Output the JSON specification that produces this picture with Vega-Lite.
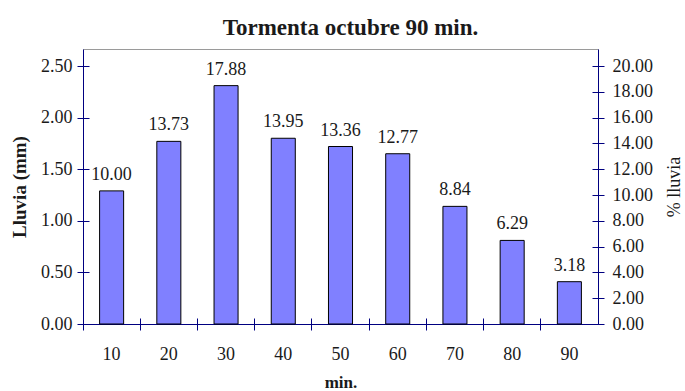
{
  "$schema": "https://vega.github.io/schema/vega-lite/v6.json",
  "autosize": {"type": "none"},
  "padding": {"left": 83, "top": 49, "right": 87, "bottom": 67},
  "width": 515,
  "height": 275,
  "background": "#ffffff",
  "title": {
    "text": "Tormenta octubre 90 min.",
    "font": "Liberation Serif",
    "fontSize": 23,
    "fontWeight": "bold",
    "color": "#1a1a1a",
    "offset": 9,
    "dx": 10
  },
  "config": {
    "view": {"stroke": "#9a9a9a", "strokeWidth": 1},
    "axis": {
      "grid": false,
      "domainColor": "#000080",
      "tickColor": "#000080",
      "domainWidth": 1,
      "tickWidth": 1,
      "labelFont": "Liberation Serif",
      "labelFontSize": 18,
      "labelColor": "#1a1a1a",
      "titleFont": "Liberation Serif",
      "titleColor": "#1a1a1a"
    }
  },
  "data": {
    "values": [
      {"min": 10, "mm": 1.29, "pct": 10.00},
      {"min": 20, "mm": 1.77, "pct": 13.73},
      {"min": 30, "mm": 2.31, "pct": 17.88},
      {"min": 40, "mm": 1.80, "pct": 13.95},
      {"min": 50, "mm": 1.72, "pct": 13.36},
      {"min": 60, "mm": 1.65, "pct": 12.77},
      {"min": 70, "mm": 1.14, "pct": 8.84},
      {"min": 80, "mm": 0.81, "pct": 6.29},
      {"min": 90, "mm": 0.41, "pct": 3.18}
    ]
  },
  "layer": [
    {
      "mark": {"type": "bar", "fill": "#8080ff", "stroke": "#000000", "strokeWidth": 1, "width": {"band": 0.42}},
      "encoding": {
        "x": {
          "field": "min", "type": "ordinal",
          "scale": {"paddingInner": 0, "paddingOuter": 0},
          "axis": {
            "orient": "bottom",
            "labelAngle": 0, "ticks": false, "tickSize": 0, "labelPadding": 21,
            "title": "min.", "titleFontSize": 17, "titleFontWeight": "bold", "titlePadding": 11
          }
        },
        "y": {
          "field": "mm", "type": "quantitative",
          "scale": {"domain": [0, 2.665], "nice": false, "zero": true},
          "axis": {
            "orient": "left",
            "values": [0, 0.5, 1, 1.5, 2, 2.5], "format": ".2f",
            "tickSize": 6, "labelPadding": 5,
            "title": "Lluvia (mm)", "titleFontSize": 19, "titleFontWeight": "bold", "titlePadding": 11
          }
        }
      }
    },
    {
      "mark": {"type": "text", "font": "Liberation Serif", "fontSize": 18, "color": "#1a1a1a", "baseline": "alphabetic", "dy": -11},
      "encoding": {
        "x": {
          "field": "min", "type": "ordinal",
          "axis": {"orient": "bottom", "bandPosition": 0, "labels": false, "domain": false, "tickSize": 12, "offset": -6, "title": null}
        },
        "y": {
          "field": "mm", "type": "quantitative",
          "scale": {"domain": [0, 2.665], "nice": false},
          "axis": {"orient": "left", "values": [0, 0.5, 1, 1.5, 2, 2.5], "labels": false, "domain": false, "tickSize": 6, "offset": -6, "title": null}
        },
        "text": {"field": "pct", "type": "quantitative", "format": ".2f"}
      }
    },
    {
      "mark": {"type": "point", "opacity": 0},
      "encoding": {
        "x": {"field": "min", "type": "ordinal", "axis": null},
        "y": {
          "field": "pct", "type": "quantitative",
          "scale": {"domain": [0, 21.32], "nice": false},
          "axis": {
            "orient": "right", "values": [0, 2, 4, 6, 8, 10, 12, 14, 16, 18, 20], "format": ".2f",
            "tickSize": 6, "labelPadding": 8,
            "title": "% lluvia", "titleFontSize": 18, "titleFontWeight": "normal", "titleAngle": 270, "titlePadding": 31
          }
        }
      }
    },
    {
      "mark": {"type": "point", "opacity": 0},
      "encoding": {
        "x": {"field": "min", "type": "ordinal", "axis": null},
        "y": {
          "field": "pct", "type": "quantitative",
          "scale": {"domain": [0, 21.32], "nice": false},
          "axis": {"orient": "right", "values": [0, 2, 4, 6, 8, 10, 12, 14, 16, 18, 20], "labels": false, "domain": false, "tickSize": 6, "offset": -6, "title": null}
        }
      }
    }
  ],
  "resolve": {"scale": {"y": "independent"}, "axis": {"x": "independent", "y": "independent"}}
}
